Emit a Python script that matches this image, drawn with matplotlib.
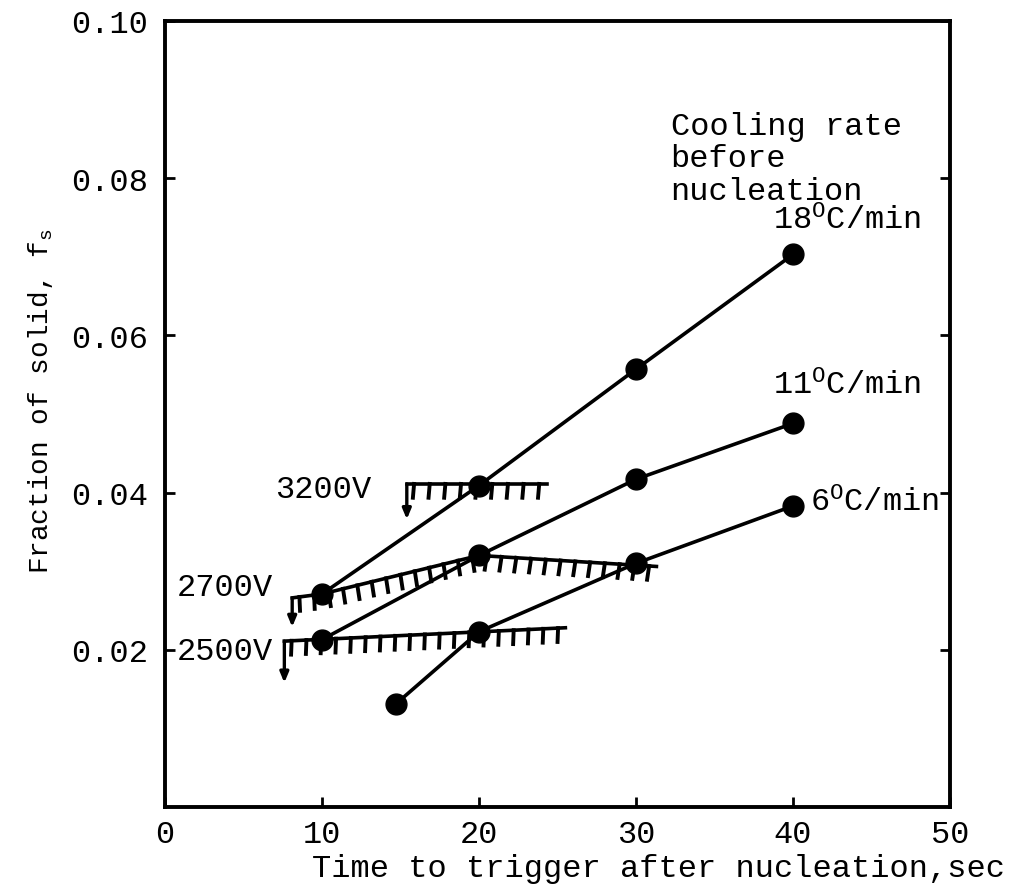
import matplotlib
matplotlib.use("Agg")
import matplotlib.pyplot as plt
import matplotlib.patheffects as pe

plt.rcParams['font.family'] = ['Liberation Mono', 'DejaVu Sans Mono']
plt.rcParams['mathtext.fontset'] = 'custom'
plt.rcParams['mathtext.rm'] = 'Liberation Mono'
plt.rcParams['mathtext.it'] = 'Liberation Mono'

# cooling rate curves
x18 = [10, 20, 30, 40]
y18 = [0.0271, 0.0409, 0.0557, 0.0703]
x11 = [10, 20, 30, 40]
y11 = [0.0213, 0.0320, 0.0417, 0.0488]
x6 = [14.7, 20, 30, 40]
y6 = [0.0131, 0.0223, 0.0310, 0.0383]

# voltage threshold lines (hatched), with arrow end
v3200_x = [15.4, 24.3]
v3200_y = [0.0411, 0.0411]
v3200_arrow = 0.0366
v2700_x = [8.1, 10, 20, 31.3]
v2700_y = [0.0266, 0.0271, 0.0320, 0.0306]
v2700_arrow = 0.0229
v2500_x = [7.6, 25.5]
v2500_y = [0.0211, 0.0228]
v2500_arrow = 0.0158

xticks = [0, 10, 20, 30, 40, 50]
yticks = [0.02, 0.04, 0.06, 0.08, 0.10]

fig = plt.figure(figsize=(10.1, 8.87), dpi=100)
ax = fig.add_axes([0.1634, 0.0891, 0.7772, 0.8861])

for xs, ys in [(x18, y18), (x11, y11), (x6, y6)]:
    ax.plot(xs, ys, color='black', lw=2.6, marker='o', ms=15, zorder=3)

for xs, ys, ya in [(v3200_x, v3200_y, v3200_arrow),
                   (v2700_x, v2700_y, v2700_arrow),
                   (v2500_x, v2500_y, v2500_arrow)]:
    ax.plot(xs, ys, color='black', lw=2.6,
            path_effects=[pe.withTickedStroke(angle=-95, spacing=10.5, length=0.95, linewidth=2.8)])
    ax.annotate('', xy=(xs[0], ya), xytext=(xs[0], ys[0]),
                arrowprops=dict(arrowstyle='-|>,head_width=0.25,head_length=0.6',
                                color='black', lw=2.4, shrinkA=0, shrinkB=0))

fs = 23
ax.text(7.0, 0.0405, '3200V', fontsize=fs, va='center')
ax.text(0.75, 0.0280, '2700V', fontsize=fs, va='center')
ax.text(0.75, 0.0199, '2500V', fontsize=fs, va='center')

ax.text(32.2, 0.0886, 'Cooling rate\nbefore\nnucleation', fontsize=fs, va='top',
        linespacing=1.12)
ax.text(38.7, 0.0736, r'18$^{\mathrm{O}}$C/min', fontsize=fs, va='baseline')
ax.text(38.7, 0.0526, r'11$^{\mathrm{O}}$C/min', fontsize=fs, va='baseline')
ax.text(41.1, 0.0377, r'6$^{\mathrm{O}}$C/min', fontsize=fs, va='baseline')

ax.set_xlim(0, 50)
ax.set_ylim(0, 0.10)
ax.set_xticks(xticks)
ax.set_xticklabels([str(t) for t in xticks])
ax.set_yticks(yticks)
ax.set_yticklabels(['%.2f' % t for t in yticks])
ax.tick_params(direction='in', length=7, width=2, labelsize=fs)
ax.tick_params(axis='x', pad=9)
ax.tick_params(axis='y', pad=12, right=True)

for s in ax.spines.values():
    s.set_linewidth(2.8)

ax.set_xlabel('Time to trigger after nucleation,sec', fontsize=fs, ha='right', va='top')
ax.xaxis.set_label_coords(1.07, -0.058)
ax.set_ylabel(r'Fraction of solid, f$_{\mathrm{s}}$', fontsize=20)
ax.yaxis.set_label_coords(-0.14, 0.518)

fig.savefig('out.png', dpi=100)
